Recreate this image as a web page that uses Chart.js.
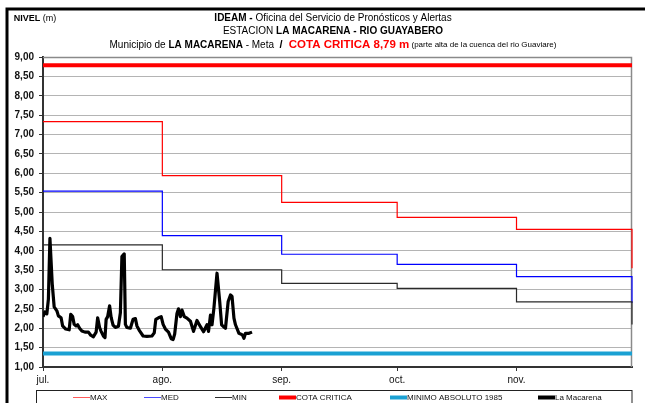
<!DOCTYPE html>
<html>
<head>
<meta charset="utf-8">
<script src="https://cdn.jsdelivr.net/npm/chart.js@4.4.1/dist/chart.umd.min.js"></script>
<style>
  body { margin: 0; background: #fff; }
  #wrap { width: 645px; height: 403px; }
</style>
</head>
<body>
<div id="wrap"><canvas id="grafico" width="645" height="403"></canvas></div>
<script>
// Eje X en días contados desde el 1 de julio
var mesesDia = [0, 31, 62, 92, 123];
var mesesEtiqueta = ["jul.", "ago.", "sep.", "oct.", "nov."];
var finDia = 153;

// Niveles históricos por mes (jul, ago, sep, oct, nov, inicio dic)
var diasEscalon = [0, 31, 62, 92, 123, 153];
var nivelMax = [7.33, 5.94, 5.25, 4.86, 4.55, 3.55];
var nivelMed = [5.54, 4.39, 3.91, 3.65, 3.33, 2.65];
var nivelMin = [4.15, 3.51, 3.16, 3.03, 2.68, 2.10];

var cotaCritica = 8.79;
var minimoAbsoluto = 1.35;

// Observaciones estación La Macarena
var diasObs = [0, 0.5, 1.0, 1.4, 1.8, 2.4, 2.9, 3.6, 4.0, 4.7, 5.1, 5.9, 6.8, 7.2, 7.7, 8.1, 8.6, 9.0, 9.5, 10.1,
  10.9, 11.8, 12.4, 13.1, 13.8, 14.2, 14.7, 15.1, 15.7, 16.1, 16.4, 16.8, 17.3, 17.7, 18.2, 18.8, 19.6, 20.1, 20.5, 21.1,
  21.4, 21.8, 22.7, 23.4, 24.0, 24.4, 25.1, 26.0, 27.0, 28.3, 28.9, 29.3, 30.0, 30.7, 31.2, 31.8, 32.6, 33.3, 33.8, 34.2,
  34.8, 35.2, 35.7, 36.1, 36.7, 37.4, 38.3, 39.1, 40.0, 40.9, 41.7, 42.6, 43.0, 43.5, 43.9, 44.4, 45.2, 45.9, 46.4, 46.9,
  47.4, 48.1, 48.7, 49.1, 49.6, 50.0, 50.9, 51.8, 52.2, 52.6, 53.5, 54.3];
var nivelObs = [2.30, 2.42, 2.37, 2.75, 4.32, 3.14, 2.55, 2.45, 2.32, 2.27, 2.06, 1.98, 1.96, 2.36, 2.30, 2.10, 2.06, 2.09, 2.00, 1.93,
  1.90, 1.90, 1.82, 1.78, 1.90, 2.27, 2.02, 1.92, 1.80, 1.76, 2.23, 2.30, 2.58, 2.28, 2.08, 2.02, 2.05, 2.40, 3.85, 3.92,
  2.10, 2.02, 2.00, 2.23, 2.25, 2.06, 1.93, 1.80, 1.79, 1.80, 1.88, 2.23, 2.27, 2.30, 2.10, 1.98, 1.90, 1.73, 1.71, 1.85,
  2.38, 2.50, 2.30, 2.47, 2.30, 2.26, 2.18, 1.92, 2.20, 2.04, 1.91, 2.09, 1.92, 2.34, 2.09, 2.52, 3.42, 2.69, 2.09, 2.04,
  2.00, 2.69, 2.86, 2.82, 2.26, 2.09, 1.87, 1.83, 1.74, 1.87, 1.87, 1.90];

var FUENTE = "'Liberation Sans', Arial, sans-serif";

function puntos(xs, ys) {
  return xs.map(function (x, i) { return { x: x, y: ys[i] }; });
}

function lineaPartes(ctx, partes, cx, y) {
  var total = 0;
  partes.forEach(function (p) { ctx.font = p.f; p.w = ctx.measureText(p.t).width; total += p.w; });
  var x = cx - total / 2;
  partes.forEach(function (p) {
    ctx.font = p.f;
    ctx.fillStyle = p.c || "#000";
    ctx.fillText(p.t, x, y);
    x += p.w;
  });
}

// Títulos, marco exterior y leyenda en caja
var decoracion = {
  id: "decoracion",
  beforeDatasetsDraw: function (chart) {
    var ctx = chart.ctx, a = chart.chartArea;
    ctx.save();
    ctx.strokeStyle = "#8a8a8a";
    ctx.lineWidth = 1.5;
    ctx.beginPath();
    ctx.moveTo(a.left, a.top + 0.5);
    ctx.lineTo(a.right - 0.5, a.top + 0.5);
    ctx.lineTo(a.right - 0.5, a.bottom);
    ctx.stroke();
    ctx.restore();
  },
  afterDraw: function (chart) {
    var ctx = chart.ctx, a = chart.chartArea;
    ctx.save();
    // marco
    ctx.strokeStyle = "#000";
    ctx.lineWidth = 3;
    ctx.strokeRect(7, 9, 700, 500);

    ctx.textBaseline = "middle";
    ctx.textAlign = "left";
    lineaPartes(ctx, [
      { t: "NIVEL", f: "bold 9px " + FUENTE },
      { t: " (m)", f: "9px " + FUENTE }
    ], 35, 19);

    var cx = 333;
    lineaPartes(ctx, [
      { t: "IDEAM - ", f: "bold 10px " + FUENTE },
      { t: "Oficina del Servicio de Pronósticos y Alertas", f: "10px " + FUENTE }
    ], cx, 18);
    lineaPartes(ctx, [
      { t: "ESTACION ", f: "10px " + FUENTE },
      { t: "LA MACARENA - RIO GUAYABERO", f: "bold 10px " + FUENTE }
    ], cx, 31);
    lineaPartes(ctx, [
      { t: "Municipio de ", f: "10px " + FUENTE },
      { t: "LA MACARENA", f: "bold 10px " + FUENTE },
      { t: " - Meta  ", f: "10px " + FUENTE },
      { t: "/  ", f: "bold 11px " + FUENTE },
      { t: "COTA CRITICA 8,79 m", f: "bold 11.5px " + FUENTE, c: "#ff0000" },
      { t: " (parte alta de la cuenca del rio Guaviare)", f: "8px " + FUENTE }
    ], cx, 45);

    // leyenda
    ctx.strokeStyle = "#222";
    ctx.lineWidth = 1;
    ctx.strokeRect(36.5, 390.5, a.right - 36.5, 30);
    var posX = [73, 144, 215, 279, 390, 538];
    chart.data.datasets.forEach(function (ds, i) {
      var x = posX[i], y = 397.5;
      ctx.strokeStyle = ds.colorLeyenda || ds.borderColor;
      ctx.lineWidth = ds.anchoLeyenda;
      ctx.beginPath();
      ctx.moveTo(x, y);
      ctx.lineTo(x + 17, y);
      ctx.stroke();
      ctx.fillStyle = "#111";
      ctx.font = "8px " + FUENTE;
      ctx.fillText(ds.label, x + 17, y);
    });
    ctx.restore();
  }
};

var comunes = { pointRadius: 0, fill: false, tension: 0 };

new Chart(document.getElementById("grafico"), {
  type: "line",
  data: {
    datasets: [
      Object.assign({ label: "MAX", data: puntos(diasEscalon, nivelMax), borderColor: "#ff0000", colorLeyenda: "#ff5a5a",
        borderWidth: 1.2, anchoLeyenda: 1, stepped: "before", clip: 3, order: 5 }, comunes),
      Object.assign({ label: "MED", data: puntos(diasEscalon, nivelMed), borderColor: "#0000ff", colorLeyenda: "#4a4aff",
        borderWidth: 1.2, anchoLeyenda: 1, stepped: "before", clip: 3, order: 4 }, comunes),
      Object.assign({ label: "MIN", data: puntos(diasEscalon, nivelMin), borderColor: "#2a2a2a",
        borderWidth: 1.2, anchoLeyenda: 1, stepped: "before", clip: 3, order: 3 }, comunes),
      Object.assign({ label: "COTA CRITICA", data: puntos([0, finDia], [cotaCritica, cotaCritica]), borderColor: "#ff0000",
        borderWidth: 4, anchoLeyenda: 4, order: 2 }, comunes),
      Object.assign({ label: "MINIMO ABSOLUTO 1985", data: puntos([0, finDia], [minimoAbsoluto, minimoAbsoluto]),
        borderColor: "#1ba1d3", borderWidth: 4, anchoLeyenda: 4, order: 1 }, comunes),
      Object.assign({ label: "La Macarena", data: puntos(diasObs, nivelObs), borderColor: "#000000",
        borderWidth: 3.2, anchoLeyenda: 4, borderJoinStyle: "round", order: 0 }, comunes)
    ]
  },
  options: {
    responsive: false,
    animation: false,
    layout: { padding: { left: 0, top: 57, right: 13, bottom: 0 } },
    plugins: {
      legend: { display: false },
      title: { display: false },
      tooltip: { enabled: false }
    },
    scales: {
      x: {
        type: "linear",
        min: 0,
        max: finDia,
        afterBuildTicks: function (scale) {
          scale.ticks = mesesDia.map(function (v) { return { value: v }; });
        },
        afterFit: function (scale) { scale.height = 36; },
        ticks: {
          autoSkip: false,
          maxRotation: 0,
          padding: 3,
          color: "#111",
          font: { family: FUENTE, size: 10 },
          callback: function (v) { return mesesEtiqueta[mesesDia.indexOf(v)]; }
        },
        grid: { drawOnChartArea: false, tickLength: 4, tickColor: "#333" },
        border: { color: "#333", width: 2 }
      },
      y: {
        min: 1,
        max: 9,
        afterFit: function (scale) { scale.width = 43; },
        ticks: {
          stepSize: 0.5,
          padding: 5,
          color: "#111",
          font: { family: FUENTE, size: 10, weight: "bold" },
          callback: function (v) { return v.toFixed(2).replace(".", ","); }
        },
        grid: { color: "#b4b4b4", lineWidth: 1, borderDash: [1, 1], tickLength: 4, tickColor: "#333", tickBorderDash: [] },
        border: { color: "#333", width: 2 }
      }
    }
  },
  plugins: [decoracion]
});
</script>
</body>
</html>
